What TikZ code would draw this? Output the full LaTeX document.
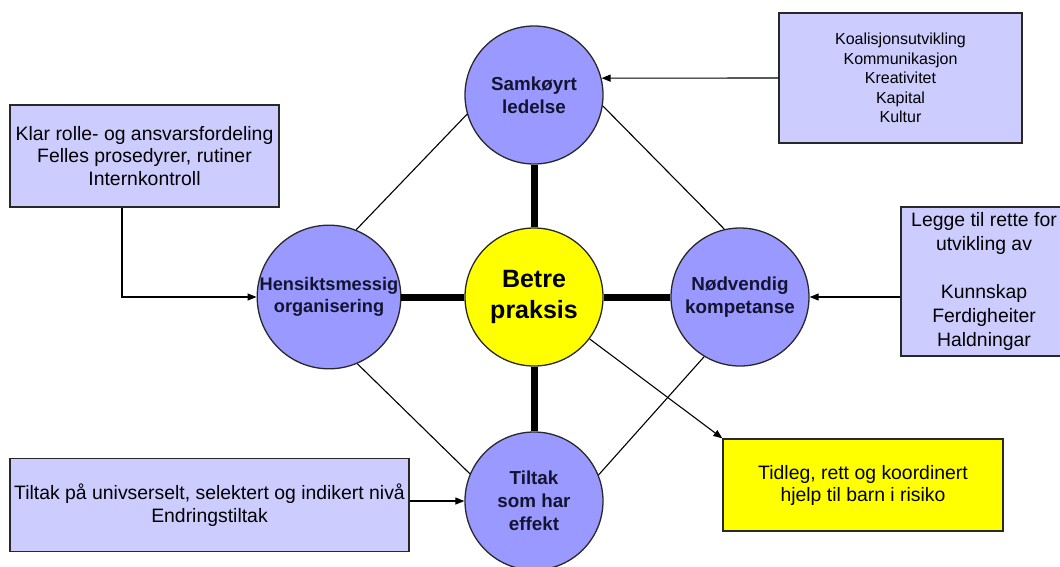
\documentclass[tikz,border=0pt]{standalone}
\usepackage{fontspec}
\setmainfont{Liberation Sans}
\usetikzlibrary{arrows.meta}
\definecolor{circblue}{RGB}{153,153,255}
\definecolor{boxblue}{RGB}{204,204,255}
\definecolor{ylw}{RGB}{255,255,0}
\definecolor{edgegray}{RGB}{40,40,40}
\definecolor{navytext}{RGB}{20,20,50}
\begin{document}
\begin{tikzpicture}[x=1pt,y=-1pt,
  circ/.style={circle, draw=edgegray, line width=1.3pt, fill=circblue, minimum size=138pt, inner sep=0pt, align=center, font=\fontsize{18.8}{23}\selectfont\bfseries, text=navytext},
  infobox/.style={rectangle, draw=edgegray, line width=1.3pt, fill=boxblue, inner sep=0pt, align=center, text=black},
  diag/.style={line width=1.1pt, draw=black},
  spoke/.style={line width=7pt, draw=black},
  arr/.style={line width=1.1pt, draw=black, -{Triangle[length=9pt,width=7pt]}}
]
\fill[white] (0,0) rectangle (1060,566);
\useasboundingbox (0,0) rectangle (1060,566);

% circles
\node[circ] (top) at (534,95) {Samkøyrt\\ledelse};
\node[circ, font=\fontsize{18.2}{22}\selectfont\bfseries] (left) at (329,297) {Hensiktsmessig\\organisering};
\node[circ, fill=ylw, text=black, font=\fontsize{25}{31}\selectfont\bfseries] (mid) at (534,297) {\raisebox{-4pt}{\begin{tabular}{@{}c@{}}Betre\\praksis\end{tabular}}};
\node[circ] (right) at (740,297) {\raisebox{-5pt}{\begin{tabular}{@{}c@{}}Nødvendig\\kompetanse\end{tabular}}};
\node[circ] (bot) at (534,501) {Tiltak\\som har\\effekt};

% boxes
\node[infobox, minimum width=243pt, minimum height=130pt, font=\fontsize{16}{19.5}\selectfont] (trbox) at (900.5,78) {Koalisjonsutvikling\\Kommunikasjon\\Kreativitet\\Kapital\\Kultur};
\node[infobox, minimum width=269pt, minimum height=102pt, font=\fontsize{19.4}{22.5}\selectfont] (lbox) at (144.5,156) {Klar rolle- og ansvarsfordeling\\Felles prosedyrer, rutiner\\Internkontroll};
\node[infobox, minimum width=166pt, minimum height=149pt, font=\fontsize{19.4}{24}\selectfont] (rbox) at (984,281.5) {Legge til rette for\\utvikling av\\[24pt]Kunnskap\\Ferdigheiter\\Haldningar};
\node[infobox, minimum width=399pt, minimum height=93pt, font=\fontsize{19.4}{23}\selectfont] (blbox) at (209.5,505) {Tiltak på univserselt, selektert og indikert nivå\\Endringstiltak};
\node[infobox, fill=ylw, minimum width=280pt, minimum height=92pt, font=\fontsize{19.4}{22}\selectfont] (ybox) at (863,485) {Tidleg, rett og koordinert\\hjelp til barn i risiko};

% spokes
\draw[spoke] (mid) -- (top);
\draw[spoke] (mid) -- (left);
\draw[spoke] (mid) -- (right);
\draw[spoke] (mid) -- (bot);

% diamond lines
\draw[diag] (top.196) -- (left.68);
\draw[diag] (top.351) -- (right.103);
\draw[diag] (left.293) -- (bot.157);
\draw[diag] (right.239) -- (bot.22);

% arrows
\draw[arr] (trbox.west) -- (top.14);
\coordinate (lbend) at (122,297);
\draw[arr] (lbox.south -| lbend) |- (left.west);
\draw[arr] (rbox.west |- right.east) -- (right.east);
\draw[arr] (blbox.east |- bot.west) -- (bot.west);
\draw[arr] (mid.-37) -- (ybox.north west);
\end{tikzpicture}
\end{document}
